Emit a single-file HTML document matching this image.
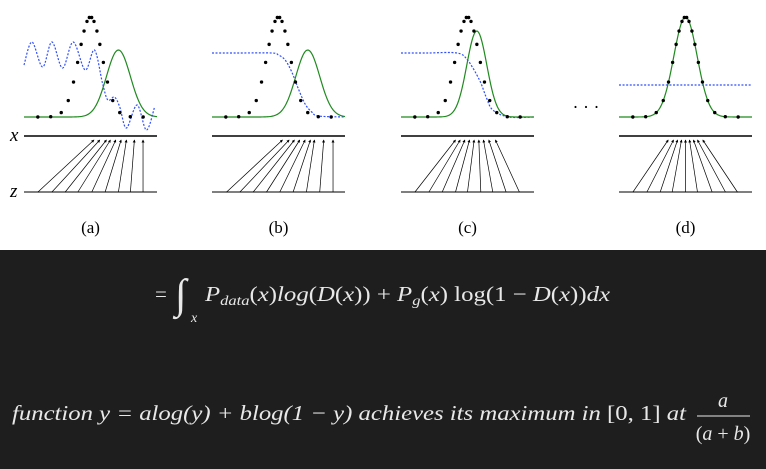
<!DOCTYPE html>
<html><head><meta charset="utf-8"><style>
html,body{margin:0;padding:0;background:#fff;}
svg{display:block;}
</style></head><body>
<svg id="fig" width="766" height="469" viewBox="0 0 766 469" xmlns="http://www.w3.org/2000/svg">
<rect x="0" y="0" width="766" height="250" fill="#ffffff"/>
<rect x="0" y="250" width="766" height="219" fill="#1e1e1e"/>
<g id="panels"></g>
<text x="586" y="113" font-family="Liberation Serif, serif" font-size="18" text-anchor="middle" fill="#000">· · ·</text>
<g fill="#e8e8e8" font-family="Liberation Serif, serif">
<text x="155" y="301" font-size="21">=</text>
<text x="175" y="308" font-size="42" font-style="italic">∫</text>
<text x="191" y="322" font-size="14" font-style="italic">x</text>
<text x="205" y="301" font-size="21" textLength="405" lengthAdjust="spacingAndGlyphs"><tspan font-style="italic">P</tspan><tspan font-style="italic" font-size="14" dy="4">data</tspan><tspan dy="-4">(</tspan><tspan font-style="italic">x</tspan>)<tspan font-style="italic">log</tspan>(<tspan font-style="italic">D</tspan>(<tspan font-style="italic">x</tspan>)) + <tspan font-style="italic">P</tspan><tspan font-style="italic" font-size="14" dy="4">g</tspan><tspan dy="-4">(</tspan><tspan font-style="italic">x</tspan>) log(1 − <tspan font-style="italic">D</tspan>(<tspan font-style="italic">x</tspan>))<tspan font-style="italic">dx</tspan></text>
</g>
<g fill="#e8e8e8" font-family="Liberation Serif, serif">
<text x="12" y="420" font-size="21" font-style="italic" textLength="674" lengthAdjust="spacingAndGlyphs">function y = alog(y) + blog(1 − y) achieves its maximum in <tspan font-style="normal">[0, 1]</tspan> at</text>
<text x="723" y="407" font-size="20" font-style="italic" text-anchor="middle">a</text>
<line x1="697" y1="416" x2="750" y2="416" stroke="#e8e8e8" stroke-width="1"/>
<text x="723" y="440" font-size="20" text-anchor="middle">(<tspan font-style="italic">a</tspan> + <tspan font-style="italic">b</tspan>)</text>
</g>
</svg>
<script>
// ---- data (domain x in [0,10]) ----
const panelLabels = ["(a)","(b)","(c)","(d)"];
const dataMean = [5.0, 5.0, 5.0, 5.0];
const dataSd = [0.88, 0.88, 0.88, 0.88];
const dataPeak = [1.0, 1.0, 1.0, 1.0];
const genMean = [7.1, 7.2, 5.7, 5.0];
const genSd = [0.9, 0.9, 0.75, 0.88];
const genPeak = [0.67, 0.67, 0.86, 1.0];
const dotOffsets = [-5.7,-4.5,-3.4,-2.5,-1.9,-1.45,-1.1,-0.8,-0.55,-0.3,-0.1,0.1,0.3,0.55,0.8,1.1,1.45,1.9,2.5,3.4,4.5,5.7];
const discX = [
  [0,0.6,1.4,2.1,2.9,3.7,4.6,5.3,5.9,6.3,6.8,7.2,7.7,8.5,9.2,9.8],
  [0,2,4.5,5,5.5,6,6.5,7,7.5,8,10],
  [0,2,4.2,5.0,5.9,6.4,6.9,8.1,10],
  [0,5,10]
];
const discY = [
  [0.52,0.75,0.50,0.75,0.49,0.75,0.47,0.67,0.34,0.17,0.20,0.10,-0.11,0.12,-0.13,0.09],
  [0.64,0.64,0.64,0.62,0.57,0.45,0.28,0.13,0.05,0.01,0],
  [0.64,0.64,0.64,0.57,0.37,0.20,0.07,0,0],
  [0.32,0.32,0.32]
];
const zSamples = [
  [1.05,2.1,3.1,4.05,5.1,6.1,7.1,8.0,8.95],
  [1.1,2.1,3.1,4.1,5.1,6.1,7.1,8.1,9.1],
  [1.05,2.1,3.1,4.1,5.0,6.0,6.9,7.9,8.9],
  [1.05,2.1,3.1,4.0,5.0,5.9,7.0,8.0,8.9]
];
const xMapped = [
  [5.26,5.7,6.2,6.5,6.9,7.3,7.7,8.3,8.95],
  [5.3,5.8,6.2,6.6,7.0,7.4,7.7,8.4,9.1],
  [4.1,4.45,4.8,5.15,5.5,5.85,6.2,6.6,7.1],
  [3.7,4.1,4.4,4.7,5.0,5.3,5.6,5.9,6.3]
];
// ---- layout ----
const panelLeft = [24,212,401,619];
const W = 133, baseY = 117, xLineY = 136, zLineY = 192, densScale = 100;
const NS = "http://www.w3.org/2000/svg";
const root = document.getElementById("panels");
function mk(tag, attrs, parent){const e=document.createElementNS(NS,tag);for(const k in attrs)e.setAttribute(k,attrs[k]);parent.appendChild(e);return e;}
function bell(x,m,s,h){return h*Math.exp(-0.5*((x-m)/s)**2);}
function smoothPath(pts){
  let d="M"+pts[0][0]+","+pts[0][1];
  for(let i=0;i<pts.length-1;i++){
    const p0=pts[Math.max(0,i-1)],p1=pts[i],p2=pts[i+1],p3=pts[Math.min(pts.length-1,i+2)];
    const c1x=p1[0]+(p2[0]-p0[0])/6,c1y=p1[1]+(p2[1]-p0[1])/6;
    const c2x=p2[0]-(p3[0]-p1[0])/6,c2y=p2[1]-(p3[1]-p1[1])/6;
    d+=" C"+c1x+","+c1y+" "+c2x+","+c2y+" "+p2[0]+","+p2[1];
  }
  return d;
}
mk("defs",{},root).innerHTML='<marker id="ah" markerWidth="3" markerHeight="3" refX="2.5" refY="1.5" orient="auto" markerUnits="userSpaceOnUse"><path d="M0,0 L3,1.5 L0,3 z" fill="#000"/></marker>';
panelLabels.forEach((lab,p)=>{
  const L=panelLeft[p];
  const sx=v=>L+v/10*W;
  const sy=v=>baseY-v*densScale;
  const g=mk("g",{},root);
  
  
  const dpts=discX[p].map((v,i)=>[sx(v),baseY-discY[p][i]*100]);
  const dl=mk("path",{d:smoothPath(dpts),fill:"none",stroke:"#2f4fff","stroke-width":1.2,"stroke-dasharray":"2,1.6"},g);
  
  
  const gp=[];
  for(let i=0;i<=120;i++){const v=i/12;gp.push((i?"L":"M")+sx(v).toFixed(2)+","+sy(bell(v,genMean[p],genSd[p],genPeak[p])).toFixed(2));}
  const gl=mk("path",{d:gp.join(" "),fill:"none",stroke:"#1f8a1f","stroke-width":1.2},g);
  
  
  dotOffsets.forEach(o=>{
    const v=dataMean[p]+o*dataSd[p];
    if(v<0||v>10)return;
    const c=mk("circle",{cx:sx(v),cy:sy(bell(v,dataMean[p],dataSd[p],dataPeak[p])),r:1.7,fill:"#000"},g);
    
    
  });
  const xl=mk("line",{x1:L,y1:xLineY,x2:L+W,y2:xLineY,stroke:"#000","stroke-width":1.5},g);
  
  
  const zl=mk("line",{x1:L,y1:zLineY,x2:L+W,y2:zLineY,stroke:"#555","stroke-width":1.5},g);
  
  
  zSamples[p].forEach((z,i)=>{
    const a=mk("line",{x1:sx(z),y1:zLineY,x2:sx(xMapped[p][i]),y2:xLineY+4,stroke:"#000","stroke-width":0.7,"marker-end":"url(#ah)"},g);
    
    
  });
  const t=mk("text",{x:L+W/2,y:233,"font-family":"Liberation Serif, serif","font-size":17,"text-anchor":"middle",fill:"#000"},g);
  t.textContent=lab;
  
  
});
const xs=mk("text",{x:10,y:141,"font-family":"Liberation Serif, serif","font-size":19,"font-style":"italic",fill:"#000"},root);
xs.textContent="x";


const zs=mk("text",{x:10,y:197,"font-family":"Liberation Serif, serif","font-size":19,"font-style":"italic",fill:"#000"},root);
zs.textContent="z";


</script>
</body></html>
